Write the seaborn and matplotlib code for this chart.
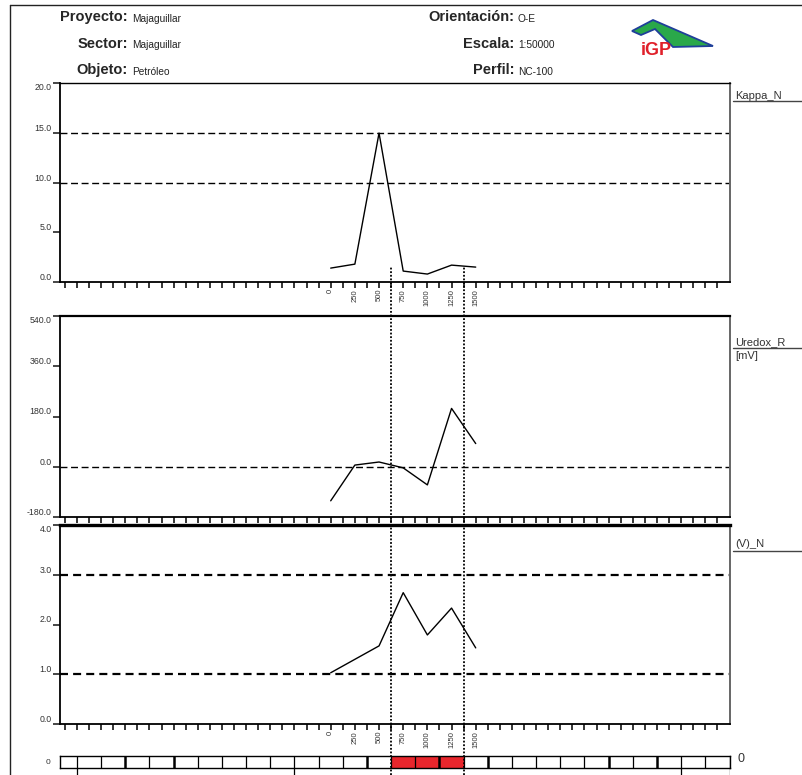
import numpy as np
import pandas as pd
import matplotlib
matplotlib.use("Agg")
import matplotlib.pyplot as plt
from matplotlib.lines import Line2D
from matplotlib.patches import Polygon
import seaborn as sns

# ---- profile data (NC-100, O-E) ----
distance = [0, 250, 500, 750, 1000, 1250, 1500]
kappa_n = [1.4, 1.8, 15.0, 1.1, 0.8, 1.7, 1.5]
uredox_r = [-122, 6, 17, -4, -65, 209, 83]
v_n = [1.03, 1.3, 1.57, 2.64, 1.79, 2.33, 1.53]

kappa_thresholds = [10.0, 15.0]
uredox_thresholds = [0.0]
vn_thresholds = [1.0, 3.0]

kappa_ticks = [0.0, 5.0, 10.0, 15.0, 20.0]
uredox_ticks = [-180.0, 0.0, 180.0, 360.0, 540.0]
vn_ticks = [0.0, 1.0, 2.0, 3.0, 4.0]

anomaly_bounds = [625, 1375]          # dotted markers of the anomaly zone
anomaly_cells = [625, 875, 1125]      # red cells of the anomaly bar
cell_width = 250

header_left = [("Proyecto:", "Majaguillar"), ("Sector:", "Majaguillar"), ("Objeto:", "Petróleo")]
header_right = [("Orientación:", "O-E"), ("Escala:", "1:50000"), ("Perfil:", "NC-100")]

XMIN, XMAX = -2800, 4125

sns.set_style("white")
plt.rcParams["font.family"] = ["Liberation Sans", "DejaVu Sans"]

W, H = 802, 775
fig = plt.figure(figsize=(W / 100, H / 100), dpi=100)


def box(l, t, r, b):
    return [l / W, 1 - b / H, (r - l) / W, (b - t) / H]


def fx(x):
    return x / W


def fy(y):
    return 1 - y / H


# ---- page frame ----
fig.add_artist(Line2D([fx(10), fx(10)], [fy(5), fy(775)], color="#222", lw=1.0))
fig.add_artist(Line2D([fx(10), fx(802)], [fy(5), fy(5)], color="#222", lw=1.0))

# ---- header ----
for i, (lab, val) in enumerate(header_left):
    y = fy(17 + 26.5 * i)
    fig.text(fx(128), y, lab, ha="right", va="center", fontsize=10.5, fontweight="bold")
    fig.text(fx(132), y - 0.002, val, ha="left", va="center", fontsize=7.3,
             family=["Liberation Sans Narrow", "Liberation Sans"], color="#222")
for i, (lab, val) in enumerate(header_right):
    y = fy(17 + 26.5 * i)
    fig.text(fx(514), y, lab, ha="right", va="center", fontsize=10.5, fontweight="bold")
    fig.text(fx(518), y - 0.002, val, ha="left", va="center", fontsize=7.3,
             family=["Liberation Sans Narrow", "Liberation Sans"], color="#222")

# ---- logo ----
lax = fig.add_axes(box(620, 12, 720, 62))
lax.set_xlim(620, 720)
lax.set_ylim(62, 12)
lax.axis("off")
roof = [(632, 31), (653, 20), (713, 46), (673, 47), (655, 29), (641, 35)]
lax.add_patch(Polygon(roof, closed=True, facecolor="#2aa84a", edgecolor="#1f3f9a", lw=1.3))
lax.text(656, 55, "iGP", color="#e0202a", fontsize=13, fontweight="bold", ha="center",
         va="baseline", family=["Liberation Sans Narrow", "Liberation Sans"])


def style_panel(ax, yticks, ylim, show_xlabels, top_lw):
    ax.set_xlim(XMIN, XMAX)
    ax.set_ylim(*ylim)
    ax.set_xlabel("")
    ax.set_ylabel("")
    for s in ("left", "bottom"):
        ax.spines[s].set_color("black")
        ax.spines[s].set_linewidth(1.3)
    ax.spines["right"].set_color("#666")
    ax.spines["right"].set_linewidth(1.4)
    ax.spines["top"].set_color("black")
    ax.spines["top"].set_linewidth(top_lw)
    ax.set_yticks(yticks)
    ax.set_yticklabels([f"{v:.1f}" for v in yticks])
    ax.tick_params(axis="y", direction="out", length=5, width=1.2, pad=1,
                   labelsize=6.3, labelcolor="#333", left=True)
    for lab in ax.get_yticklabels():
        lab.set_va("bottom")
    ax.get_yticklabels()[-1].set_va("top")
    ax.set_xticks(distance)
    ax.set_xticks(np.arange(-2750, XMAX, 125), minor=True)
    if show_xlabels:
        ax.set_xticklabels([str(d) for d in distance], rotation=90, fontsize=5.5, color="#333")
    else:
        ax.set_xticklabels([])
    ax.tick_params(axis="x", which="both", direction="out", length=4, width=1.3,
                   pad=1, bottom=True)
    ax.grid(False)


# ---- Kappa_N ----
ax1 = fig.add_axes(box(60, 83.4, 729.5, 282))
sns.lineplot(x=distance, y=kappa_n, ax=ax1, color="black", lw=1.0)
for t in kappa_thresholds:
    ax1.axhline(t, color="black", lw=1.0, ls=(0, (5, 2.6)))
style_panel(ax1, kappa_ticks, (0, 20), True, 1.0)

# ---- Uredox_R ----
ax2 = fig.add_axes(box(60, 316, 729.5, 517))
sns.lineplot(x=distance, y=uredox_r, ax=ax2, color="black", lw=1.0)
for t in uredox_thresholds:
    ax2.axhline(t, color="black", lw=1.0, ls=(0, (5, 2.6)))
style_panel(ax2, uredox_ticks, (-180, 540), False, 1.6)

# ---- (V)_N ----
ax3 = fig.add_axes(box(60, 525, 729.5, 724))
sns.lineplot(x=distance, y=v_n, ax=ax3, color="black", lw=1.0)
for t in vn_thresholds:
    ax3.axhline(t, color="black", lw=1.6, ls=(0, (3.6, 2.3)))
style_panel(ax3, vn_ticks, (0, 4), True, 2.4)

# ---- panel names on the right ----
for name, ytxt, yline in [("Kappa_N", 96, 101), ("Uredox_R", 342, 348), ("(V)_N", 544, 551)]:
    fig.text(fx(735), fy(ytxt), name, ha="left", va="center", fontsize=8, color="#333")
    fig.add_artist(Line2D([fx(733), fx(802)], [fy(yline), fy(yline)], color="#444", lw=1.0))
fig.text(fx(735), fy(356), "[mV]", ha="left", va="center", fontsize=8, color="#333")

# ---- anomaly bar ----
axb = fig.add_axes(box(60, 756, 729.5, 768))
axb.set_xlim(XMIN, XMAX)
axb.set_ylim(0, 1)
axb.bar(anomaly_cells, [1] * len(anomaly_cells), width=cell_width, align="edge",
        color="#e8262c", edgecolor="none")
edges = np.arange(-2625, XMAX + 1, cell_width)
thick_edges = {-2125, -1625, 375, 1125, 1625, 2875, 3375}
for e in edges:
    axb.axvline(e, color="black", lw=1.8 if e in thick_edges else 0.9)
axb.set_xticks([])
axb.set_yticks([])
for s in axb.spines.values():
    s.set_color("black")
    s.set_linewidth(1.0)
fig.text(fx(48), fy(762), "0", ha="center", va="center", fontsize=6, color="#333")
fig.text(fx(741), fy(759), "0", ha="center", va="center", fontsize=9, color="#333")

# ---- overlay: anomaly-zone markers and scale marks below the bar ----
axo = fig.add_axes(box(60, 267, 729.5, 775), facecolor="none")
axo.set_xlim(XMIN, XMAX)
axo.set_ylim(775, 267)
axo.axis("off")
for b in anomaly_bounds:
    axo.axvline(b, color="black", lw=1.3, ls=(0, (1, 1)))
for m in [-2625, -375, 3625, 4125]:
    axo.plot([m, m], [768, 775], color="black", lw=0.9)

fig.savefig("out.png", dpi=100)
